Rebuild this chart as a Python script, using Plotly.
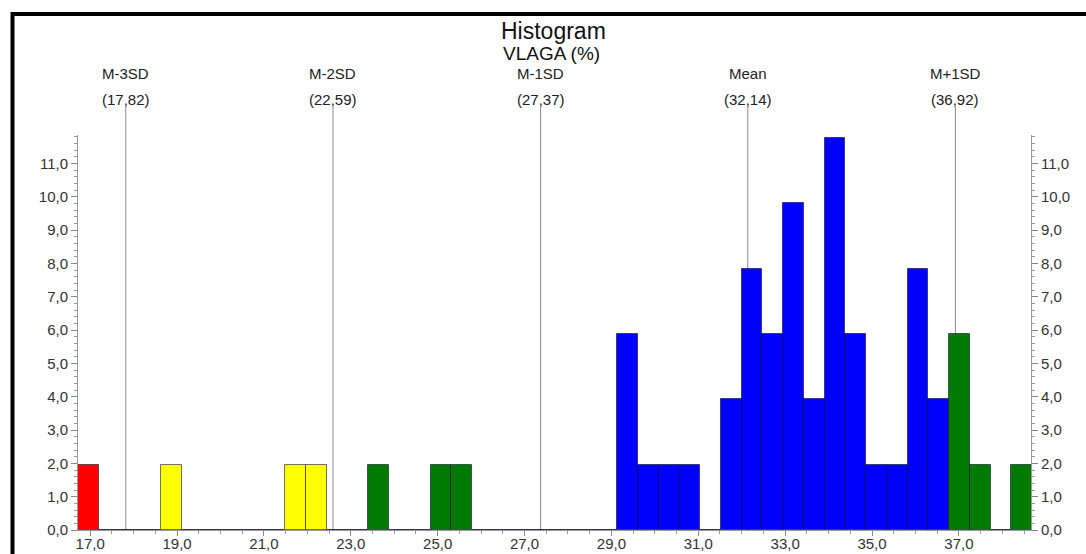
import plotly.graph_objects as go

# ---- data ----
bin_start = 16.72
bin_width = 0.4775
percent = [1.96, 0, 0, 0, 1.96, 0, 0, 0, 0, 0,
           1.96, 1.96, 0, 0, 1.96, 0, 0, 1.96, 1.96, 0,
           0, 0, 0, 0, 0, 0, 5.88, 1.96, 1.96, 1.96,
           0, 3.92, 7.84, 5.88, 9.80, 3.92, 11.76, 5.88, 1.96, 1.96,
           7.84, 3.92, 5.88, 1.96, 0, 1.96]
stat_names = ["M-3SD", "M-2SD", "M-1SD", "Mean", "M+1SD"]
stat_values = [17.82, 22.59, 27.37, 32.14, 36.92]
stat_labels = ["(17,82)", "(22,59)", "(27,37)", "(32,14)", "(36,92)"]
mean = 32.14
sd = 4.775

centers = [bin_start + (i + 0.5) * bin_width for i in range(len(percent))]

def color_for(x):
    z = abs(x - mean) / sd
    if z < 1:
        return "#0000FF"
    if z < 2:
        return "#007A00"
    if z < 3:
        return "#FFFF00"
    return "#FF0000"

colors = [color_for(c) for c in centers]

FONT = "Liberation Sans, Arial, sans-serif"

# plot area in pixels: left 78, right 1031, top 135, bottom 530
def py(pix):
    return (530 - pix) / 395

def px(pix):
    return (pix - 78) / 953

fig = go.Figure()
fig.add_trace(go.Bar(
    x=centers, y=percent, width=bin_width,
    marker=dict(color=colors, line=dict(color="rgba(0,0,40,0.55)", width=1)),
    showlegend=False, hoverinfo="x+y",
))
# same bars on the right-hand axis (transparent) so the mirrored axis is drawn
fig.add_trace(go.Bar(
    x=centers, y=percent, width=bin_width, yaxis="y2",
    marker=dict(color="rgba(0,0,0,0)", line=dict(width=0)),
    showlegend=False, hoverinfo="skip",
))

shapes = []
annotations = []
for name, v, lab in zip(stat_names, stat_values, stat_labels):
    shapes.append(dict(type="line", xref="x", yref="paper", x0=v, x1=v, y0=0, y1=py(107),
                       line=dict(color="#8c8c8c", width=1), layer="below"))
    annotations.append(dict(x=v, xref="x", y=py(73), yref="paper", text=name, showarrow=False,
                            font=dict(family=FONT, size=15, color="#222"), xanchor="center", yanchor="middle"))
    annotations.append(dict(x=v, xref="x", y=py(100), yref="paper", text=lab, showarrow=False,
                            font=dict(family=FONT, size=15, color="#222"), xanchor="center", yanchor="middle"))

annotations.append(dict(x=px(553), xref="paper", y=py(31), yref="paper", text="Histogram",
                        showarrow=False, font=dict(family=FONT, size=23, color="#111"),
                        xanchor="center", yanchor="middle"))
annotations.append(dict(x=px(551), xref="paper", y=py(53), yref="paper", text="VLAGA (%)",
                        showarrow=False, font=dict(family=FONT, size=19, color="#111"),
                        xanchor="center", yanchor="middle"))

# outer frame
shapes.append(dict(type="rect", xref="paper", yref="paper",
                   x0=px(12.5), x1=1.2, y0=-0.3, y1=py(14),
                   line=dict(color="black", width=4), layer="above"))

tickfont = dict(family=FONT, size=15, color="#333")
yax_common = dict(range=[0, 11.85], dtick=1, tick0=0, tickformat=".1f", ticks="outside",
                  ticklen=6, tickcolor="#888", showline=True, linecolor="#999", linewidth=1,
                  showgrid=False, zeroline=False, tickfont=tickfont, automargin=False,
                  minor=dict(dtick=0.2, ticks="outside", ticklen=3, tickcolor="#999"))

fig.update_layout(
    width=1086, height=554,
    margin=dict(l=78, r=55, t=135, b=24),
    paper_bgcolor="white", plot_bgcolor="white",
    separators=", ",
    bargap=0,
    barmode="overlay",
    xaxis=dict(range=[16.72, 38.66], tick0=17, dtick=2, tickformat=".1f", ticks="outside",
               ticklen=5, tickcolor="#888", showline=True, linecolor="#999", linewidth=1,
               showgrid=False, zeroline=False, tickfont=tickfont, automargin=False,
               ticklabelstandoff=-5,
               minor=dict(dtick=0.5, ticks="outside", ticklen=3, tickcolor="#999")),
    yaxis=dict(side="left", **yax_common),
    yaxis2=dict(side="right", overlaying="y", anchor="x", **yax_common),
    shapes=shapes,
    annotations=annotations,
)

fig.write_html("out.html")
